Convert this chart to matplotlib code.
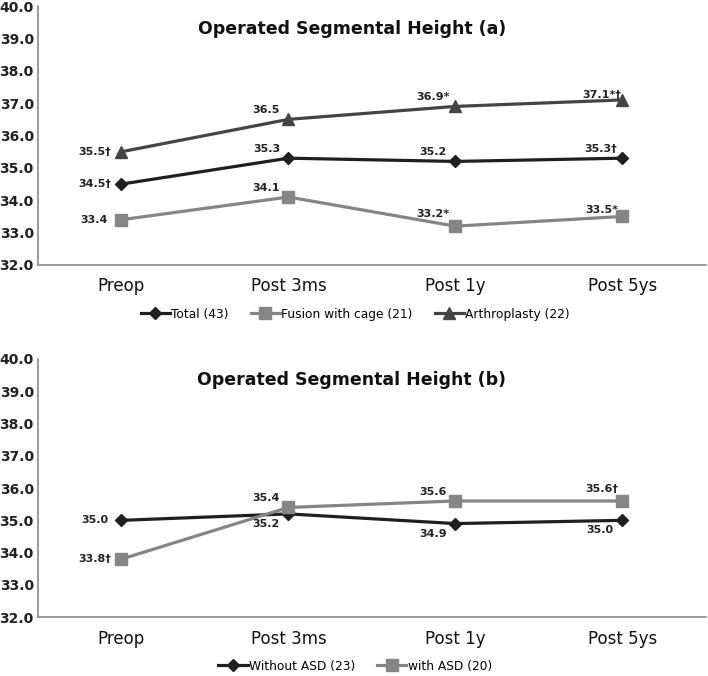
import numpy as np
import matplotlib.pyplot as plt

# data
periods = ["Preop", "Post 3ms", "Post 1y", "Post 5ys"]

total = [34.5, 35.3, 35.2, 35.3]
fusion = [33.4, 34.1, 33.2, 33.5]
arthro = [35.5, 36.5, 36.9, 37.1]
total_lbl = ["34.5\u2020", "35.3", "35.2", "35.3\u2020"]
fusion_lbl = ["33.4", "34.1", "33.2*", "33.5*"]
arthro_lbl = ["35.5\u2020", "36.5", "36.9*", "37.1*\u2020"]

no_asd = [35.0, 35.2, 34.9, 35.0]
with_asd = [33.8, 35.4, 35.6, 35.6]
no_asd_lbl = ["35.0", "35.2", "34.9", "35.0"]
with_asd_lbl = ["33.8\u2020", "35.4", "35.6", "35.6\u2020"]

# label offsets in pixels (dx, dy)
left = (-27, 0)
up = (-22, 9)
down = (-22, -10)
total_off = [left, up, up, up]
fusion_off = [left, up, (-22, 12), (-20, 6)]
arthro_off = [left, up, up, (-20, 5)]
no_asd_off = [left, down, down, down]
with_asd_off = [left, up, up, (-20, 12)]

fig = plt.figure(figsize=(7.08, 6.76), dpi=100)
ax1 = fig.add_axes([0.0537, 0.608, 0.943, 0.383])
ax2 = fig.add_axes([0.0537, 0.087, 0.943, 0.382])

x = np.arange(len(periods))


def style(ax, title, ty):
    ax.set_xlim(-0.5, 3.5)
    ax.set_ylim(32, 40)
    ax.set_yticks(np.arange(32, 40.1, 1))
    ax.set_yticklabels(["%.1f" % v for v in np.arange(32, 40.1, 1)],
                       fontsize=10, fontweight="bold", color="#222222")
    ax.set_xticks(x)
    ax.set_xticklabels(periods, fontsize=12, color="#111111")
    ax.tick_params(axis="both", length=0)
    ax.tick_params(axis="y", pad=3)
    ax.tick_params(axis="x", pad=9)
    for s in ["top", "right"]:
        ax.spines[s].set_visible(False)
    ax.spines["left"].set_color("#8a8a8a")
    ax.spines["bottom"].set_color("#8a8a8a")
    ax.spines["left"].set_linewidth(1.2)
    ax.spines["bottom"].set_linewidth(1.2)
    ax.text(0.47, ty, title, transform=ax.transAxes, ha="center", va="center",
            fontsize=12.5, fontweight="bold", color="#111111")


def series(ax, y, lbls, offs, color, marker, ms, name):
    ax.plot(x, y, color=color, marker=marker, markersize=ms, linewidth=2.3,
            label=name)
    for xi, yi, t, o in zip(x, y, lbls, offs):
        ax.annotate(t, (xi, yi), xytext=o, textcoords="offset pixels",
                    ha="center", va="center", fontsize=8, fontweight="bold",
                    color="#222222")


style(ax1, "Operated Segmental Height (a)", 0.91)
series(ax1, total, total_lbl, total_off, "#1f1f1f", "D", 6, "Total (43)")
series(ax1, fusion, fusion_lbl, fusion_off, "#858585", "s", 8, "Fusion with cage (21)")
series(ax1, arthro, arthro_lbl, arthro_off, "#454545", "^", 9, "Arthroplasty (22)")
ax1.legend(loc="center", bbox_to_anchor=(0.475, -0.19), ncol=3, frameon=False,
           fontsize=8.8, handlelength=2.4, handletextpad=0.1, columnspacing=1.8)

style(ax2, "Operated Segmental Height (b)", 0.92)
series(ax2, no_asd, no_asd_lbl, no_asd_off, "#1f1f1f", "D", 6, "Without ASD (23)")
series(ax2, with_asd, with_asd_lbl, with_asd_off, "#858585", "s", 8, "with ASD (20)")
ax2.legend(loc="center", bbox_to_anchor=(0.475, -0.19), ncol=2, frameon=False,
           fontsize=8.8, handlelength=2.4, handletextpad=0.1, columnspacing=1.8)

fig.savefig("out.png", dpi=100)
